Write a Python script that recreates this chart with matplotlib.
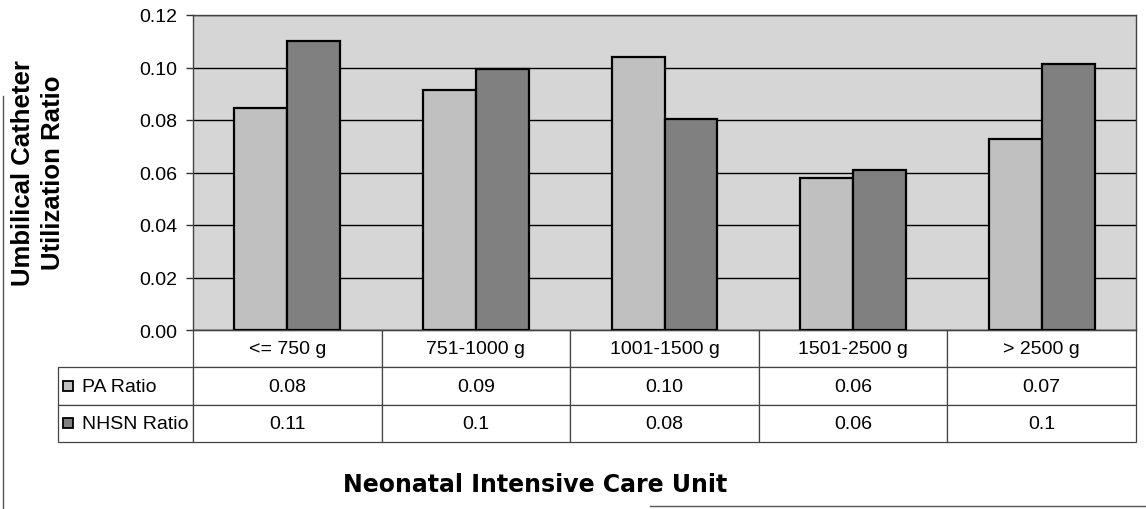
import numpy as np
import matplotlib.pyplot as plt
from matplotlib.patches import Rectangle
from matplotlib.lines import Line2D

plt.rcParams['font.family'] = ['Liberation Sans', 'DejaVu Sans']

categories = ['<= 750 g', '751-1000 g', '1001-1500 g', '1501-2500 g', '> 2500 g']
series_names = ['PA Ratio', 'NHSN Ratio']
pa_ratio = [0.0845, 0.0915, 0.104, 0.058, 0.0727]
nhsn_ratio = [0.110, 0.0995, 0.0805, 0.061, 0.1013]
pa_labels = ['0.08', '0.09', '0.10', '0.06', '0.07']
nhsn_labels = ['0.11', '0.1', '0.08', '0.06', '0.1']
yticks = [0.00, 0.02, 0.04, 0.06, 0.08, 0.10, 0.12]

bg_col = '#d6d6d6'
pa_col = '#c0c0c0'
nhsn_col = '#808080'

fig = plt.figure(figsize=(11.46, 5.10), dpi=100)
ax = fig.add_axes([193 / 1146, 1 - 331 / 510, 943 / 1146, 315 / 510])
ax.set_facecolor(bg_col)

x = np.arange(len(categories))
w = 0.28
ax.bar(x - w / 2, pa_ratio, w, color=pa_col, edgecolor='black', linewidth=1.6, zorder=3)
ax.bar(x + w / 2, nhsn_ratio, w, color=nhsn_col, edgecolor='black', linewidth=1.6, zorder=3)

ax.set_xlim(-0.5, len(categories) - 0.5)
ax.set_ylim(0, 0.12)
ax.set_yticks(yticks)
ax.set_yticklabels(['%.2f' % v for v in yticks], fontsize=14)
ax.yaxis.grid(True, color='black', linewidth=1.0, zorder=1)
ax.set_axisbelow(True)
ax.set_xticks([])
ax.tick_params(axis='y', length=5, width=1, color='#333333', pad=6)
for s in ax.spines.values():
    s.set_color('#444444')
    s.set_linewidth(1.0)

# data table under the plot
tbl_h = 112 / 315
lab_w = 135 / 943
tbl = ax.table(cellText=[pa_labels, nhsn_labels], colLabels=categories,
               cellLoc='center', bbox=[0, -tbl_h, 1, tbl_h])
cell_h = tbl[1, 0].get_height()
for r, name in enumerate(series_names):
    tbl.add_cell(r + 1, -1, width=lab_w, height=cell_h, text=name, loc='left')
tbl.auto_set_font_size(False)
tbl.set_fontsize(14)
for (r, c), cell in tbl.get_celld().items():
    cell.set_edgecolor('#444444')
    cell.set_linewidth(0.9)
    cell.set_facecolor('white')
    if c == -1:
        cell.PAD = 0.18

# legend keys inside the row label cells
row_h = tbl_h / 3
key = 10 / 943
key_h = 10 / 315
for i, col in enumerate([pa_col, nhsn_col]):
    yc = -row_h * (1.5 + i)
    ax.add_patch(Rectangle((-lab_w + 5 / 943, yc - key_h / 2), key, key_h,
                           transform=ax.transAxes, clip_on=False,
                           facecolor=col, edgecolor='black', linewidth=1.3, zorder=5))

fig.text(38 / 1146, 1 - 173 / 510, 'Umbilical Catheter\nUtilization Ratio',
         rotation=90, ha='center', va='center', multialignment='center',
         fontsize=18.5, fontweight='bold', linespacing=1.3)
fig.text(535 / 1146, 1 - 485 / 510, 'Neonatal Intensive Care Unit',
         ha='center', va='center', fontsize=17, fontweight='bold',
         family='DejaVu Sans')

# page frame remnants from the scan
fig.add_artist(Line2D([3 / 1146, 3 / 1146], [0, 1 - 97 / 510], color='#555555', linewidth=1))
fig.add_artist(Line2D([650 / 1146, 1], [3 / 510, 3 / 510], color='#555555', linewidth=1))

fig.savefig('out.png', dpi=100, facecolor='white')
